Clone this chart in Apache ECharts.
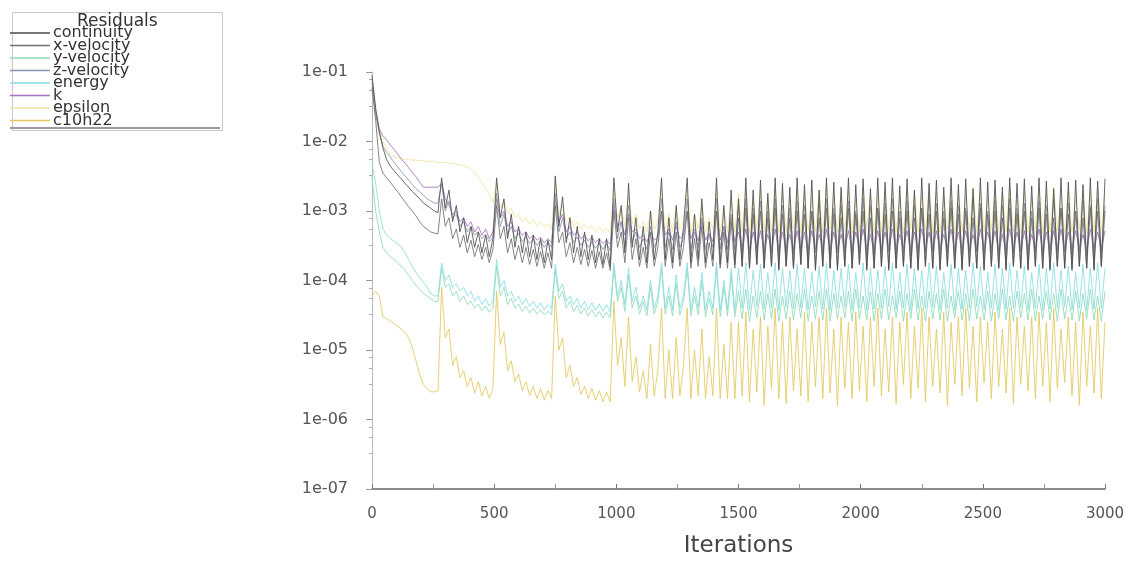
<!DOCTYPE html>
<html>
<head>
<meta charset="utf-8">
<script src="https://cdn.jsdelivr.net/npm/echarts@6/dist/echarts.min.js"></script>
<style>
html,body{margin:0;padding:0;background:#fff;}
#chart{width:1128px;height:563px;filter:blur(0.5px);}
</style>
</head>
<body>
<div id="chart"></div>
<script>
// ---- data ----
const seriesNames = ['continuity','x-velocity','y-velocity','z-velocity','energy','k','epsilon','c10h22'];
const xTicks = [0,500,1000,1500,2000,2500,3000];
const yTicks = [1e-7,1e-6,1e-5,1e-4,1e-3,1e-2,1e-1];

const iterations = [
0,15,30,45,60,75,90,105,120,135,
150,165,180,195,210,225,240,255,270,285,
300,315,330,345,360,375,390,405,420,435,
450,465,480,495,510,525,540,555,570,585,
600,615,630,645,660,675,690,705,720,735,
750,765,780,795,810,825,840,855,870,885,
900,915,930,945,960,975,990,1005,1020,1035,
1050,1065,1080,1095,1110,1125,1140,1155,1170,1185,
1200,1215,1230,1245,1260,1275,1290,1305,1320,1335,
1350,1365,1380,1395,1410,1425,1440,1455,1470,1485,
1500,1515,1530,1545,1560,1575,1590,1605,1620,1635,
1650,1665,1680,1695,1710,1725,1740,1755,1770,1785,
1800,1815,1830,1845,1860,1875,1890,1905,1920,1935,
1950,1965,1980,1995,2010,2025,2040,2055,2070,2085,
2100,2115,2130,2145,2160,2175,2190,2205,2220,2235,
2250,2265,2280,2295,2310,2325,2340,2355,2370,2385,
2400,2415,2430,2445,2460,2475,2490,2505,2520,2535,
2550,2565,2580,2595,2610,2625,2640,2655,2670,2685,
2700,2715,2730,2745,2760,2775,2790,2805,2820,2835,
2850,2865,2880,2895,2910,2925,2940,2955,2970,2985,
3000];

const continuity = [
9e-2,3e-2,1.4e-2,8e-3,5.5e-3,4.4e-3,3.8e-3,3.3e-3,2.9e-3,2.5e-3,
2.2e-3,1.9e-3,1.7e-3,1.5e-3,1.3e-3,1.2e-3,1.1e-3,1e-3,9.5e-4,3e-3,
1.1e-3,2e-3,7e-4,1.2e-3,5e-4,8e-4,3.5e-4,6e-4,3e-4,5e-4,
2.5e-4,4.5e-4,2.2e-4,4e-4,3e-3,8e-4,1.5e-3,4e-4,9e-4,3e-4,
6e-4,2.5e-4,5e-4,2.2e-4,4.5e-4,2e-4,4e-4,1.8e-4,3.8e-4,2e-4,
3.2e-3,6e-4,1.6e-3,3.5e-4,8e-4,2.5e-4,6e-4,2.2e-4,5e-4,2e-4,
4.5e-4,1.8e-4,4e-4,1.7e-4,4e-4,1.6e-4,3e-3,5e-4,1.2e-3,2.5e-4,
2.5e-3,3e-4,8e-4,2e-4,6e-4,1.8e-4,1e-3,2e-4,5e-4,3e-3,
2e-4,8e-4,1.8e-4,1.2e-3,2e-4,6e-4,3e-3,1.8e-4,9e-4,2e-4,
1.5e-3,1.8e-4,7e-4,2e-4,3e-3,1.7e-4,1.2e-3,1.8e-4,2e-3,1.7e-4,
1.5e-3,1.6e-4,3e-3,1.5e-4,2e-3,1.7e-4,2.8e-3,1.5e-4,1.8e-3,1.6e-4,
3e-3,1.4e-4,2.5e-3,1.6e-4,2.2e-3,1.5e-4,3e-3,1.7e-4,2.4e-3,1.5e-4,
2.8e-3,1.4e-4,2e-3,1.6e-4,3e-3,1.5e-4,2.6e-3,1.4e-4,2.2e-3,1.6e-4,
3e-3,1.5e-4,2.4e-3,1.7e-4,2.9e-3,1.4e-4,2.1e-3,1.5e-4,3e-3,1.6e-4,
2.6e-3,1.4e-4,3e-3,1.5e-4,2.3e-3,1.6e-4,2.9e-3,1.5e-4,2e-3,1.4e-4,
3e-3,1.6e-4,2.5e-3,1.5e-4,2.8e-3,1.4e-4,2.2e-3,1.6e-4,3e-3,1.5e-4,
2.4e-3,1.4e-4,2.9e-3,1.6e-4,2.1e-3,1.5e-4,3e-3,1.4e-4,2.6e-3,1.6e-4,
2.8e-3,1.5e-4,2.2e-3,1.4e-4,3e-3,1.6e-4,2.5e-3,1.5e-4,2.9e-3,1.4e-4,
2.3e-3,1.6e-4,3e-3,1.5e-4,2.7e-3,1.4e-4,2.1e-3,1.6e-4,3e-3,1.5e-4,
2.6e-3,1.4e-4,2.8e-3,1.6e-4,2.4e-3,1.5e-4,3e-3,1.4e-4,2.7e-3,1.6e-4,
2.9e-3];

const xVelocity = [
6e-2,2e-2,5e-3,3.5e-3,3e-3,2.6e-3,2.2e-3,1.9e-3,1.6e-3,1.35e-3,
1.15e-3,1e-3,8.5e-4,7e-4,6e-4,5.5e-4,5e-4,4.8e-4,4.7e-4,1.5e-3,
6e-4,8e-4,4e-4,5.5e-4,3e-4,4.5e-4,2.5e-4,3.8e-4,2.2e-4,3.3e-4,
2e-4,3e-4,1.8e-4,2.8e-4,1.2e-3,4e-4,6e-4,2.5e-4,4e-4,2e-4,
3.2e-4,1.8e-4,3e-4,1.7e-4,2.8e-4,1.6e-4,2.6e-4,1.5e-4,2.5e-4,1.5e-4,
1.2e-3,3.5e-4,5e-4,2.2e-4,3.5e-4,1.8e-4,3e-4,1.7e-4,2.8e-4,1.6e-4,
2.7e-4,1.5e-4,2.6e-4,1.5e-4,2.5e-4,1.4e-4,1e-3,3e-4,5e-4,1.8e-4,
8e-4,2e-4,4e-4,1.6e-4,3e-4,1.5e-4,5e-4,1.6e-4,3e-4,1e-3,
1.6e-4,4e-4,1.5e-4,5e-4,1.6e-4,3e-4,1e-3,1.5e-4,4e-4,1.6e-4,
6e-4,1.5e-4,3.5e-4,1.6e-4,1e-3,1.5e-4,5e-4,1.5e-4,7e-4,1.5e-4,
8e-4,1.6e-4,1.1e-3,1.5e-4,9e-4,1.7e-4,1e-3,1.5e-4,8e-4,1.6e-4,
1.1e-3,1.5e-4,9e-4,1.6e-4,8e-4,1.5e-4,1e-3,1.7e-4,9e-4,1.5e-4,
1e-3,1.5e-4,8e-4,1.6e-4,1.1e-3,1.5e-4,9e-4,1.5e-4,8e-4,1.6e-4,
1.1e-3,1.5e-4,9e-4,1.7e-4,1e-3,1.5e-4,8e-4,1.5e-4,1.1e-3,1.6e-4,
9e-4,1.5e-4,1e-3,1.5e-4,8e-4,1.6e-4,1e-3,1.5e-4,8e-4,1.5e-4,
1.1e-3,1.6e-4,9e-4,1.5e-4,1e-3,1.5e-4,8e-4,1.6e-4,1.1e-3,1.5e-4,
9e-4,1.5e-4,1e-3,1.6e-4,8e-4,1.5e-4,1.1e-3,1.5e-4,9e-4,1.6e-4,
1e-3,1.5e-4,8e-4,1.5e-4,1.1e-3,1.6e-4,9e-4,1.5e-4,1e-3,1.5e-4,
8e-4,1.6e-4,1.1e-3,1.5e-4,9e-4,1.5e-4,8e-4,1.6e-4,1.1e-3,1.5e-4,
9e-4,1.5e-4,1e-3,1.6e-4,8e-4,1.5e-4,1.1e-3,1.5e-4,1e-3,1.6e-4,
1e-3];

const yVelocity = [
3e-3,1e-3,5e-4,3e-4,2.5e-4,2.2e-4,2e-4,1.8e-4,1.6e-4,1.4e-4,
1.2e-4,1e-4,8.5e-5,7.5e-5,6.5e-5,6e-5,5.5e-5,5e-5,5e-5,1.5e-4,
8e-5,9e-5,6e-5,7e-5,5e-5,6e-5,4.5e-5,5e-5,4e-5,4.6e-5,
3.7e-5,4.3e-5,3.5e-5,4e-5,1.6e-4,6e-5,8e-5,4.5e-5,5.5e-5,4e-5,
4.6e-5,3.6e-5,4.3e-5,3.4e-5,4e-5,3.3e-5,3.8e-5,3.2e-5,3.6e-5,3.2e-5,
1.4e-4,5.5e-5,7e-5,4e-5,5e-5,3.6e-5,4.4e-5,3.3e-5,4e-5,3.1e-5,
3.8e-5,3e-5,3.6e-5,2.9e-5,3.5e-5,2.9e-5,1.5e-4,5e-5,8e-5,3.6e-5,
1.2e-4,4e-5,6e-5,3.3e-5,5e-5,3.1e-5,8e-5,3.3e-5,5e-5,1.5e-4,
3.3e-5,6e-5,3.1e-5,9e-5,3.2e-5,5e-5,1.5e-4,3.1e-5,6e-5,3.2e-5,
1e-4,3e-5,5.5e-5,3.2e-5,1.5e-4,3e-5,8e-5,3.1e-5,1.2e-4,3e-5,
7e-5,2.8e-5,7.5e-5,2.6e-5,6e-5,2.9e-5,7e-5,2.7e-5,6.5e-5,2.8e-5,
7.5e-5,2.6e-5,6e-5,2.8e-5,7e-5,2.7e-5,6.5e-5,2.9e-5,7.5e-5,2.6e-5,
6e-5,2.8e-5,7e-5,2.7e-5,7.5e-5,2.6e-5,6.5e-5,2.8e-5,6e-5,2.9e-5,
7e-5,2.6e-5,7.5e-5,2.8e-5,6e-5,2.7e-5,7e-5,2.6e-5,6.5e-5,2.8e-5,
7.5e-5,2.7e-5,6e-5,2.9e-5,7e-5,2.6e-5,6.5e-5,2.8e-5,7.5e-5,2.7e-5,
6e-5,2.6e-5,7e-5,2.8e-5,6.5e-5,2.7e-5,7.5e-5,2.6e-5,6e-5,2.9e-5,
7e-5,2.7e-5,6.5e-5,2.6e-5,7.5e-5,2.8e-5,6e-5,2.7e-5,7e-5,2.6e-5,
6.5e-5,2.8e-5,7.5e-5,2.7e-5,6e-5,2.6e-5,7e-5,2.9e-5,6.5e-5,2.7e-5,
7.5e-5,2.6e-5,6e-5,2.8e-5,7e-5,2.7e-5,6.5e-5,2.6e-5,7.5e-5,2.8e-5,
6e-5,2.7e-5,7e-5,2.6e-5,6.5e-5,2.8e-5,7.5e-5,2.7e-5,6e-5,2.6e-5,
7e-5];

const zVelocity = [
8e-2,2.5e-2,1.3e-2,8.5e-3,7e-3,6e-3,5e-3,4.3e-3,3.7e-3,3.2e-3,
2.8e-3,2.4e-3,2.1e-3,1.9e-3,1.7e-3,1.5e-3,1.4e-3,1.3e-3,1.3e-3,2.5e-3,
1e-3,1.4e-3,8e-4,9e-4,6e-4,7e-4,5e-4,6e-4,4.5e-4,5e-4,
4e-4,4.6e-4,3.6e-4,4.2e-4,1.8e-3,6e-4,9e-4,4.5e-4,6e-4,4e-4,
4.8e-4,3.6e-4,4.3e-4,3.4e-4,4e-4,3.2e-4,3.8e-4,3e-4,3.6e-4,3e-4,
1.8e-3,5e-4,8e-4,4e-4,5e-4,3.5e-4,4.2e-4,3.2e-4,3.8e-4,3e-4,
3.6e-4,2.9e-4,3.5e-4,2.8e-4,3.4e-4,2.7e-4,1.5e-3,4e-4,7e-4,3e-4,
1.2e-3,3.5e-4,5e-4,3e-4,4e-4,2.8e-4,6e-4,3e-4,4e-4,1.5e-3,
3e-4,5e-4,2.8e-4,7e-4,3e-4,4e-4,1.5e-3,2.8e-4,5e-4,3e-4,
8e-4,2.8e-4,4.5e-4,3e-4,1.5e-3,2.8e-4,6e-4,2.8e-4,9e-4,2.8e-4,
1.2e-3,2.5e-4,1.5e-3,2.4e-4,1.1e-3,2.6e-4,1.4e-3,2.4e-4,1e-3,2.5e-4,
1.5e-3,2.3e-4,1.2e-3,2.5e-4,1.1e-3,2.4e-4,1.4e-3,2.6e-4,1.2e-3,2.4e-4,
1e-3,2.5e-4,1.3e-3,2.4e-4,1.5e-3,2.3e-4,1.1e-3,2.5e-4,1.2e-3,2.6e-4,
1.4e-3,2.4e-4,1e-3,2.5e-4,1.5e-3,2.3e-4,1.2e-3,2.4e-4,1.1e-3,2.5e-4,
1.3e-3,2.6e-4,1.5e-3,2.4e-4,1e-3,2.5e-4,1.4e-3,2.3e-4,1.2e-3,2.4e-4,
1.1e-3,2.5e-4,1.5e-3,2.6e-4,1.3e-3,2.4e-4,1e-3,2.5e-4,1.4e-3,2.3e-4,
1.2e-3,2.4e-4,1.1e-3,2.5e-4,1.5e-3,2.6e-4,1.3e-3,2.4e-4,1e-3,2.5e-4,
1.4e-3,2.3e-4,1.2e-3,2.4e-4,1.5e-3,2.5e-4,1.1e-3,2.6e-4,1.3e-3,2.4e-4,
1e-3,2.5e-4,1.4e-3,2.3e-4,1.2e-3,2.4e-4,1.5e-3,2.5e-4,1.1e-3,2.6e-4,
1.3e-3,2.4e-4,1e-3,2.5e-4,1.4e-3,2.3e-4,1.2e-3,2.4e-4,1.5e-3,2.5e-4,
1.2e-3];

const energy = [
5e-3,2.5e-3,1e-3,5.5e-4,4.5e-4,4e-4,3.7e-4,3.4e-4,3e-4,2.5e-4,
2e-4,1.6e-4,1.3e-4,1.1e-4,9.5e-5,8e-5,6.5e-5,6e-5,6e-5,1.8e-4,
1e-4,1.2e-4,8e-5,9e-5,7e-5,8e-5,6e-5,7e-5,5e-5,6e-5,
4.5e-5,5.5e-5,4.3e-5,5e-5,2e-4,8e-5,1e-4,6e-5,7e-5,5e-5,
6e-5,4.5e-5,5.5e-5,4.2e-5,5e-5,4e-5,4.8e-5,3.8e-5,4.5e-5,4e-5,
1.7e-4,7e-5,9e-5,5e-5,6e-5,4.5e-5,5.5e-5,4e-5,5e-5,3.8e-5,
4.8e-5,3.7e-5,4.6e-5,3.6e-5,4.5e-5,3.5e-5,1.8e-4,6e-5,1e-4,4.5e-5,
1.5e-4,5e-5,8e-5,4e-5,6e-5,3.8e-5,1e-4,4e-5,6e-5,1.8e-4,
4e-5,8e-5,3.8e-5,1.2e-4,4e-5,6e-5,1.8e-4,3.8e-5,8e-5,4e-5,
1.3e-4,3.8e-5,7e-5,4e-5,1.8e-4,3.7e-5,1e-4,3.8e-5,1.5e-4,3.6e-5,
1.5e-4,4e-5,1.8e-4,3.8e-5,1.4e-4,4.2e-5,1.7e-4,3.9e-5,1.3e-4,4e-5,
1.8e-4,3.7e-5,1.5e-4,4.1e-5,1.4e-4,3.9e-5,1.7e-4,4e-5,1.5e-4,3.8e-5,
1.3e-4,4.2e-5,1.6e-4,3.9e-5,1.8e-4,3.7e-5,1.4e-4,4e-5,1.5e-4,4.1e-5,
1.7e-4,3.8e-5,1.3e-4,4e-5,1.8e-4,3.7e-5,1.5e-4,3.9e-5,1.4e-4,4e-5,
1.6e-4,4.2e-5,1.8e-4,3.8e-5,1.3e-4,4e-5,1.7e-4,3.7e-5,1.5e-4,3.9e-5,
1.4e-4,4e-5,1.8e-4,4.1e-5,1.6e-4,3.8e-5,1.3e-4,4e-5,1.7e-4,3.7e-5,
1.5e-4,3.9e-5,1.4e-4,4e-5,1.8e-4,4.2e-5,1.6e-4,3.8e-5,1.3e-4,4e-5,
1.7e-4,3.7e-5,1.5e-4,3.9e-5,1.8e-4,4e-5,1.4e-4,4.1e-5,1.6e-4,3.8e-5,
1.3e-4,4e-5,1.7e-4,3.7e-5,1.5e-4,3.9e-5,1.8e-4,4e-5,1.4e-4,4.2e-5,
1.6e-4,3.8e-5,1.3e-4,4e-5,1.7e-4,3.7e-5,1.5e-4,3.9e-5,1.8e-4,4e-5,
1.5e-4];

const kTurb = [
7e-2,2.5e-2,1.5e-2,1.2e-2,1.05e-2,8.9e-3,7.7e-3,6.6e-3,5.6e-3,4.9e-3,
4.2e-3,3.6e-3,3.1e-3,2.6e-3,2.2e-3,2.2e-3,2.2e-3,2.2e-3,2.2e-3,2.5e-3,
1.5e-3,1.2e-3,9e-4,1e-3,7e-4,8e-4,6e-4,7e-4,5e-4,6e-4,
4.5e-4,5.5e-4,4e-4,5e-4,1.5e-3,8e-4,1e-3,6e-4,7e-4,5e-4,
5.5e-4,4.5e-4,5e-4,4e-4,4.5e-4,3.8e-4,4.2e-4,3.5e-4,4e-4,3.5e-4,
1.5e-3,7e-4,9e-4,5e-4,6e-4,4.5e-4,5e-4,4e-4,4.5e-4,3.7e-4,
4.2e-4,3.5e-4,4e-4,3.4e-4,3.8e-4,3.3e-4,1.2e-3,6e-4,7e-4,4.5e-4,
9e-4,5e-4,5.5e-4,4e-4,4.5e-4,3.6e-4,5e-4,3.8e-4,4.2e-4,1e-3,
4.5e-4,5.5e-4,3.8e-4,6e-4,4e-4,4.5e-4,1e-3,4e-4,5.5e-4,3.7e-4,
7e-4,3.8e-4,4.8e-4,3.6e-4,1e-3,3.8e-4,6e-4,3.5e-4,8e-4,3.6e-4,
5e-4,2.8e-4,5.5e-4,2.7e-4,5e-4,2.9e-4,5.2e-4,2.7e-4,4.6e-4,2.8e-4,
5.5e-4,2.7e-4,5e-4,2.9e-4,4.6e-4,2.7e-4,5.2e-4,2.8e-4,5e-4,2.7e-4,
5.2e-4,2.8e-4,4.6e-4,2.9e-4,5.5e-4,2.7e-4,5e-4,2.8e-4,4.6e-4,2.8e-4,
5.2e-4,2.7e-4,5e-4,2.9e-4,5.5e-4,2.8e-4,4.6e-4,2.7e-4,5.2e-4,2.8e-4,
5e-4,2.7e-4,5.5e-4,2.8e-4,4.6e-4,2.9e-4,5.2e-4,2.7e-4,5e-4,2.8e-4,
5.5e-4,2.8e-4,5e-4,2.7e-4,5.2e-4,2.8e-4,4.6e-4,2.9e-4,5.5e-4,2.7e-4,
5e-4,2.8e-4,5.2e-4,2.8e-4,4.6e-4,2.7e-4,5.5e-4,2.8e-4,5e-4,2.9e-4,
5.2e-4,2.7e-4,4.6e-4,2.8e-4,5.5e-4,2.8e-4,5e-4,2.7e-4,5.2e-4,2.8e-4,
4.6e-4,2.9e-4,5.5e-4,2.7e-4,5e-4,2.8e-4,5.2e-4,2.8e-4,5.5e-4,2.7e-4,
5e-4,2.8e-4,5.2e-4,2.9e-4,4.6e-4,2.7e-4,5.5e-4,2.8e-4,5e-4,2.8e-4,
5.2e-4];

const epsilon = [
9e-2,3e-2,1.5e-2,1e-2,8e-3,6.5e-3,6e-3,5.8e-3,5.6e-3,5.5e-3,
5.5e-3,5.4e-3,5.4e-3,5.3e-3,5.3e-3,5.2e-3,5.2e-3,5.1e-3,5e-3,5e-3,
5e-3,4.9e-3,4.8e-3,4.7e-3,4.6e-3,4.5e-3,4.3e-3,4e-3,3.6e-3,3.1e-3,
2.6e-3,2.1e-3,1.7e-3,1.3e-3,2.5e-3,1.1e-3,1.4e-3,9e-4,1.1e-3,8e-4,
9e-4,7e-4,8e-4,6.5e-4,7.5e-4,6e-4,7e-4,6e-4,6.5e-4,5.5e-4,
2.5e-3,9e-4,1.2e-3,7e-4,8e-4,6e-4,7e-4,5.5e-4,6.5e-4,5.5e-4,
6e-4,5e-4,6e-4,5e-4,5.5e-4,4.8e-4,2e-3,8e-4,1.1e-3,6e-4,
1.6e-3,6.5e-4,9e-4,5.5e-4,7e-4,5e-4,1e-3,5.5e-4,7e-4,2e-3,
5.5e-4,9e-4,5e-4,1.1e-3,5.5e-4,7e-4,2e-3,5e-4,9e-4,5.5e-4,
1.3e-3,5e-4,8e-4,5.5e-4,2e-3,5e-4,1.1e-3,5e-4,1.5e-3,5e-4,
1.8e-3,5e-4,2.2e-3,4.8e-4,1.6e-3,5.5e-4,2e-3,5e-4,1.5e-3,5.2e-4,
2.2e-3,4.8e-4,1.8e-3,5e-4,1.6e-3,5.5e-4,2e-3,4.8e-4,1.8e-3,5.2e-4,
1.5e-3,5e-4,2e-3,4.8e-4,2.2e-3,5.5e-4,1.6e-3,5e-4,1.8e-3,5.2e-4,
2e-3,4.8e-4,1.5e-3,5e-4,2.2e-3,5.5e-4,1.8e-3,4.8e-4,1.6e-3,5e-4,
1.9e-3,5.2e-4,2.2e-3,5e-4,1.5e-3,4.8e-4,2e-3,5.5e-4,1.8e-3,5e-4,
1.6e-3,5.2e-4,2.2e-3,4.8e-4,1.9e-3,5e-4,1.5e-3,5.5e-4,2e-3,4.8e-4,
1.8e-3,5e-4,1.6e-3,5.2e-4,2.2e-3,4.8e-4,1.9e-3,5e-4,1.5e-3,5.5e-4,
2e-3,4.8e-4,1.8e-3,5e-4,2.2e-3,5.2e-4,1.6e-3,4.8e-4,1.9e-3,5e-4,
1.5e-3,5.5e-4,2e-3,4.8e-4,1.8e-3,5e-4,2.2e-3,5.2e-4,1.6e-3,4.8e-4,
1.9e-3,5e-4,1.5e-3,5.5e-4,2e-3,4.8e-4,1.8e-3,5e-4,2.2e-3,5.2e-4,
1.8e-3];

const c10h22 = [
6e-5,7e-5,6e-5,3e-5,2.8e-5,2.6e-5,2.4e-5,2.2e-5,2e-5,1.8e-5,
1.5e-5,1.1e-5,7e-6,4.5e-6,3.2e-6,2.8e-6,2.5e-6,2.5e-6,2.6e-6,8e-5,
1.5e-5,2e-5,6e-6,8e-6,4e-6,5e-6,3e-6,4e-6,2.4e-6,3.5e-6,
2.2e-6,3e-6,2e-6,2.8e-6,7e-5,1.2e-5,1.8e-5,5e-6,7e-6,3.5e-6,
4.5e-6,2.6e-6,3.5e-6,2.2e-6,3e-6,2e-6,2.8e-6,1.9e-6,2.6e-6,2e-6,
6e-5,1e-5,1.5e-5,4e-6,6e-6,3e-6,4e-6,2.3e-6,3e-6,2e-6,
2.8e-6,1.9e-6,2.6e-6,1.8e-6,2.5e-6,1.8e-6,5e-5,6e-6,1.5e-5,3e-6,
3e-5,3.5e-6,8e-6,2.5e-6,5e-6,2e-6,1.2e-5,2.2e-6,5e-6,4e-5,
2e-6,1e-5,2e-6,1.5e-5,2.2e-6,6e-6,4e-5,2e-6,1e-5,2.2e-6,
2e-5,2e-6,8e-6,2.2e-6,4e-5,2e-6,1.2e-5,2e-6,2.5e-5,2e-6,
2.5e-5,2.2e-6,3.5e-5,1.8e-6,2e-5,2.5e-6,3e-5,1.6e-6,2.2e-5,2.8e-6,
4e-5,2e-6,2.5e-5,1.7e-6,3e-5,2.6e-6,2e-5,2.2e-6,3.5e-5,1.8e-6,
2.5e-5,3e-6,3e-5,2e-6,4e-5,2.4e-6,2e-5,1.6e-6,3e-5,2.8e-6,
2.5e-5,2e-6,3.5e-5,2.6e-6,2.2e-5,1.8e-6,3e-5,3e-6,4e-5,2.2e-6,
2e-5,2.5e-6,3e-5,1.7e-6,2.5e-5,3.2e-6,3.5e-5,2e-6,2.2e-5,2.8e-6,
4e-5,1.8e-6,3e-5,3e-6,2e-5,2.4e-6,3.5e-5,1.6e-6,2.5e-5,3.2e-6,
3e-5,2.2e-6,4e-5,2.8e-6,2.2e-5,1.8e-6,3e-5,3.4e-6,2.5e-5,2e-6,
3.5e-5,3e-6,2e-5,2.4e-6,4e-5,1.7e-6,3e-5,3.2e-6,2.2e-5,2.6e-6,
3e-5,2e-6,3.5e-5,3e-6,2.5e-5,1.8e-6,4e-5,2.8e-6,2e-5,3.4e-6,
3e-5,2.2e-6,2.5e-5,1.6e-6,3.5e-5,3e-6,2.2e-5,2.4e-6,4e-5,2e-6,
2.5e-5];

const seriesValues = [continuity, xVelocity, yVelocity, zVelocity, energy, kTurb, epsilon, c10h22];
const seriesColors = ['#4d4d4d','#707070','#8fd9b6','#8795aa','#86dde3','#a870c0','#f0e59c','#e3c75c'];
const seriesZ = [10,9,3,8,4,7,5,2];

// ---- chart ----
const chart = echarts.init(document.getElementById('chart'));
const FONT = 'DejaVu Sans';

function fmtExp(v){
  const e = Math.round(Math.log10(v));
  const a = Math.abs(e);
  return '1e' + (e < 0 ? '-' : '+') + (a < 10 ? '0' + a : '' + a);
}

const series = seriesNames.map((name, si) => ({
  name: name,
  type: 'line',
  showSymbol: false,
  symbol: 'none',
  animation: false,
  z: seriesZ[si],
  lineStyle: { width: 1, color: seriesColors[si], opacity: 0.85 },
  itemStyle: { color: seriesColors[si] },
  data: iterations.map((it, i) => [it, seriesValues[si][i]])
}));

chart.setOption({
  animation: false,
  backgroundColor: '#ffffff',
  title: {
    text: 'Residuals',
    left: 72, top: 8,
    textStyle: { fontFamily: FONT, fontSize: 17, fontWeight: 'normal', color: '#333' }
  },
  legend: {
    orient: 'vertical',
    left: 10, top: 25,
    padding: 0,
    icon: 'rect',
    itemWidth: 40, itemHeight: 1.5, itemGap: -3.5,
    selectedMode: false,
    data: seriesNames,
    textStyle: { fontFamily: FONT, fontSize: 16, lineHeight: 12, color: '#333', padding: [0,0,0,-2] }
  },
  graphic: [
    { type: 'rect', left: 10, top: 10, z: -1, shape: { width: 210, height: 118 },
      style: { fill: 'none', stroke: '#c8c8c8', lineWidth: 1 } },
    { type: 'line', z: -1, shape: { x1: 10, y1: 128, x2: 220, y2: 128 },
      style: { stroke: '#9a9a9a', lineWidth: 2 } }
  ],
  grid: { left: 372, right: 23, top: 72, bottom: 72, containLabel: false },
  xAxis: {
    type: 'value',
    min: xTicks[0], max: xTicks[xTicks.length - 1], interval: 500,
    name: 'Iterations', nameLocation: 'middle', nameGap: 46,
    nameTextStyle: { fontFamily: FONT, fontSize: 23, color: '#444' },
    axisLine: { show: true, lineStyle: { color: '#666', width: 1.5 } },
    axisTick: { show: true, inside: true, length: 5, lineStyle: { color: '#777' } },
    minorTick: { show: true, splitNumber: 2, length: 5, lineStyle: { color: '#999' } },
    axisLabel: { fontFamily: FONT, fontSize: 15, color: '#555', margin: 18, formatter: v => String(v) },
    splitLine: { show: false }
  },
  yAxis: {
    type: 'log', logBase: 10,
    min: yTicks[0], max: yTicks[yTicks.length - 1],
    axisLine: { show: true, lineStyle: { color: '#bbb', width: 1 } },
    axisTick: { show: true, inside: false, length: 6, lineStyle: { color: '#999' } },
    minorTick: { show: true, splitNumber: 4, length: 3, lineStyle: { color: '#aaa' } },
    axisLabel: { fontFamily: FONT, fontSize: 16, color: '#555', margin: 24, formatter: fmtExp },
    splitLine: { show: false }
  },
  series: series
});
</script>
</body>
</html>
